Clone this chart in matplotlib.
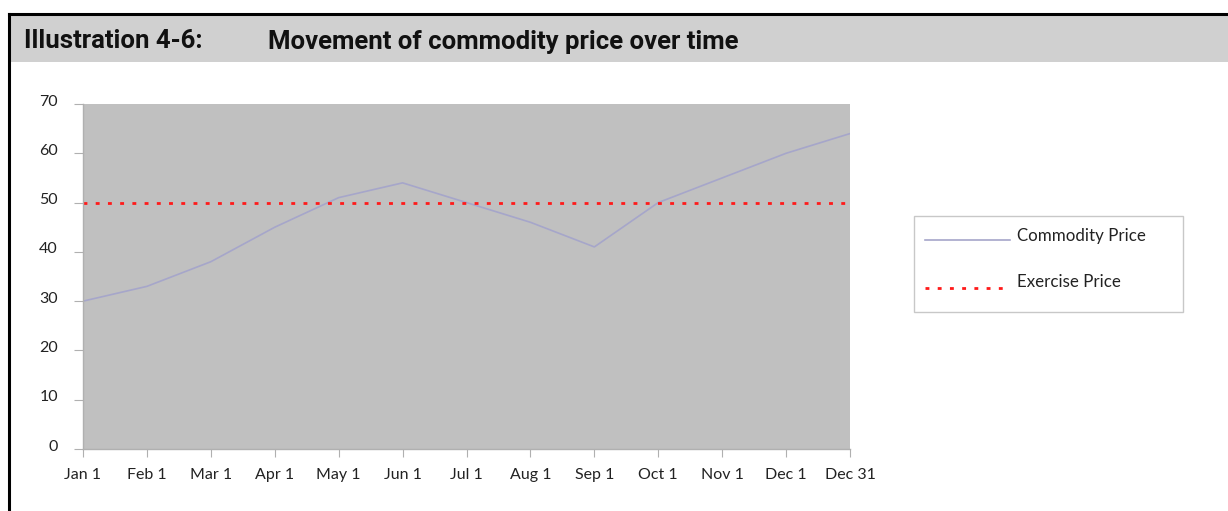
import matplotlib
matplotlib.use("Agg")
import matplotlib.pyplot as plt
import matplotlib.transforms as mtransforms
from matplotlib.patches import Rectangle
from matplotlib.lines import Line2D

# ── Data ──────────────────────────────────────────────────────────────────────
dates     = ["Jan 1", "Feb 1", "Mar 1", "Apr 1", "May 1", "Jun 1", "Jul 1",
             "Aug 1", "Sep 1", "Oct 1", "Nov 1", "Dec 1", "Dec 31"]
commodity = [30, 33, 38, 45, 51, 54, 50, 46, 41, 50, 55, 60, 64]
exercise  = [50] * len(dates)
y_ticks   = [0, 10, 20, 30, 40, 50, 60, 70]

W, H = 1228, 511
fig = plt.figure(figsize=(W / 100, H / 100), dpi=100)
fig.patch.set_facecolor("white")
fx = lambda px: px / W          # pixel -> figure fraction
fy = lambda py: 1 - py / H

# ── Header band + frame ──────────────────────────────────────────────────────
fig.add_artist(Rectangle((fx(9), fy(62)), 1, 47 / H,
                         transform=fig.transFigure, color="#d0d0d0", lw=0))
fig.add_artist(Line2D([fx(8.5), 1], [fy(14.5)] * 2, transform=fig.transFigure,
                      color="black", lw=2.2))
fig.add_artist(Line2D([fx(8.5)] * 2, [0, fy(14.5)], transform=fig.transFigure,
                      color="black", lw=2.2))

title_kw = dict(fontsize=18.5, fontweight="bold", family="Roboto",
                color="#111111", va="baseline")
fig.text(fx(24), fy(48.5), "Illustration 4-6:", **title_kw)
fig.text(fx(268), fy(48.5), "Movement of commodity price over time", **title_kw)

# ── Plot ─────────────────────────────────────────────────────────────────────
ax = fig.add_axes([fx(83), fy(449), (850 - 83) / W, (449 - 104) / H])
ax.set_facecolor("#c0c0c0")
x = list(range(len(dates)))
styles = {
    "Commodity Price": dict(color="#a6a6ca", lw=1.2),
    "Exercise Price":  dict(color="#ff1a1a", lw=2.0, linestyle=(0, (1.4, 3.0))),
}
ax.plot(x, commodity, label="Commodity Price", **styles["Commodity Price"])
ax.plot(x, exercise, label="Exercise Price", **styles["Exercise Price"])

ax.set_xlim(0, len(dates) - 1)
ax.set_ylim(0, 70)
ax.set_xticks(x)
ax.set_xticklabels(dates)
ax.set_yticks(y_ticks)

for s in ["top", "right"]:
    ax.spines[s].set_visible(False)
for s in ["left", "bottom"]:
    ax.spines[s].set_color("#b0b0b0")
    ax.spines[s].set_linewidth(1.0)

ax.tick_params(axis="y", direction="out", length=6.5, color="#b0b0b0",
               pad=11.5, labelcolor="#222222")
ax.tick_params(axis="x", direction="out", length=6, color="#b0b0b0",
               pad=7.5, labelcolor="#222222")
for lbl in ax.get_xticklabels() + ax.get_yticklabels():
    lbl.set_fontfamily("Lato")
    lbl.set_fontsize(11.5)

# y labels sit a little above their ticks in the original
shift = mtransforms.ScaledTranslation(0, 4 / 100, fig.dpi_scale_trans)
for lbl in ax.get_yticklabels():
    lbl.set_transform(lbl.get_transform() + shift)

# ── Legend (drawn by hand, Excel-style box) ──────────────────────────────────
fig.add_artist(Rectangle((fx(914), fy(312)), (1183 - 914) / W, (312 - 216) / H,
                         transform=fig.transFigure, facecolor="white",
                         edgecolor="#c8c8c8", lw=1.0))
rows = [(240, 236), (288, 282)]   # (handle y, text y) in pixels
for line, (hy, ty) in zip(ax.get_lines(), rows):
    fig.add_artist(Line2D([fx(925), fx(1010)], [fy(hy)] * 2,
                          transform=fig.transFigure,
                          **styles[line.get_label()]))
    fig.text(fx(1017), fy(ty), line.get_label(), family="Lato", fontsize=12.2,
             color="#222222", va="center", ha="left")

fig.savefig("out.png", dpi=100)
